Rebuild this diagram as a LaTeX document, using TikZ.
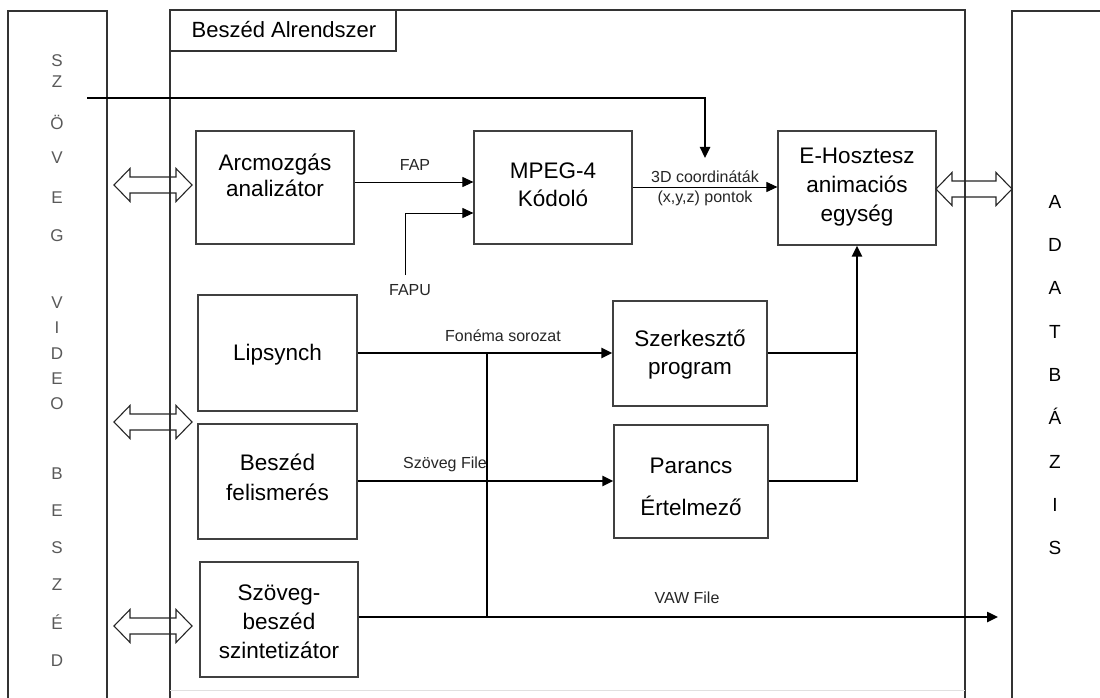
\documentclass[tikz,border=0pt]{standalone}
\usepackage{fontspec}
\setmainfont{Liberation Sans}
\usetikzlibrary{arrows.meta}

% hollow two-way block arrow: left x, right x, centre y
\newcommand{\bidirarrow}[3]{%
  \draw[hollowarrow] (#1,#3) -- ++(16,-16.5) -- ++(0,8.5) -- (#2-16,#3-8)
    -- ++(0,-8.5) -- (#2,#3) -- ++(-16,16.5) -- ++(0,-8.5) -- (#1+16,#3+8)
    -- ++(0,8.5) -- cycle;}

\begin{document}
\begin{tikzpicture}[x=1pt,y=-1pt,
  panel/.style={draw=black!80, line width=1.1pt},
  box/.style={draw=black!75, line width=1.2pt, inner sep=0pt},
  % multi-line block captions: the node is placed at the last line
  boxtxt/.style={font=\fontsize{22.5}{#1}\selectfont, align=center,
                 text height=16pt, text depth=0pt, inner sep=0pt},
  boxtxt/.default=28,
  lbl/.style={font=\fontsize{16}{19}\selectfont, text=black!85,
              text height=11.5pt, text depth=0pt, inner sep=0pt},
  leftletter/.style={font=\fontsize{17}{20}\selectfont, text=black!65,
                     text height=12pt, text depth=0pt, inner sep=0pt},
  rightletter/.style={font=\fontsize{19}{22}\selectfont, text=black,
                      text height=13.5pt, text depth=0pt, inner sep=0pt},
  thinline/.style={draw=black, line width=1pt},
  thickline/.style={draw=black, line width=2.4pt},
  arrowed/.style={-{Triangle[length=11pt,width=10pt]}},
  hollowarrow/.style={draw=black!85, line width=1.1pt, line join=miter}]

\useasboundingbox (0,0) rectangle (1100,698);
\fill[white] (0,0) rectangle (1100,698);

% --- outer panels ---
\draw[panel] (8,700) -- (8,11) -- (107,11) -- (107,700);
\draw[panel] (170,700) -- (170,10) -- (965,10) -- (965,700);
\draw[black!12, line width=0.8pt] (170,690) -- (965,690);
\draw[panel] (1012,700) -- (1012,11) -- (1102,11);

% --- subsystem title ---
\draw[panel] (170,51) -- (396,51) -- (396,10);
\node[font=\fontsize{22}{26}\selectfont, text height=15.5pt, text depth=0pt, inner sep=0pt]
  (title) at (284,30) {Beszéd Alrendszer};

% --- side captions ---
\foreach \ch/\yy [count=\i] in {S/61, Z/82, Ö/124, V/158, E/197, G/235,
    V/302, I/327, D/353, E/378, O/403,
    B/473, E/510, S/547, Z/584, É/623, D/660}
  \node[leftletter] (lt\i) at (57,\yy) {\ch};
\foreach \ch/\yy [count=\i] in {A/202, D/245, A/288, T/332, B/375, Á/418,
    Z/462, I/505, S/548}
  \node[rightletter] (rt\i) at (1055,\yy) {\ch};

% --- processing blocks ---
\node[box, minimum width=158, minimum height=113] (arc)   at (275,187.5) {};
\node[box, minimum width=158, minimum height=113] (mpeg)  at (553,187.5) {};
\node[box, minimum width=158, minimum height=114] (ehost) at (857,188) {};
\node[box, minimum width=159, minimum height=116] (lip)   at (277.5,353) {};
\node[box, minimum width=159, minimum height=115] (besz)  at (277.5,481.5) {};
\node[box, minimum width=158, minimum height=115] (szint) at (279,619.5) {};
\node[box, minimum width=154, minimum height=105] (szerk) at (690,353.5) {};
\node[box, minimum width=154, minimum height=113] (par)   at (691,481.5) {};

\node[boxtxt=25] (arcT)   at (275,188)   {Arcmozgás\\analizátor};
\node[boxtxt=28] (mpegT)  at (553,198)   {MPEG-4\\Kódoló};
\node[boxtxt=29] (ehostT) at (857,213)   {E-Hosztesz\\animaciós\\egység};
\node[boxtxt]    (lipT)   at (277.5,352) {Lipsynch};
\node[boxtxt=30] (beszT)  at (277.5,492) {Beszéd\\felismerés};
\node[boxtxt=29] (szintT) at (279,650)   {Szöveg-\\beszéd\\szintetizátor};
\node[boxtxt=28] (szerkT) at (690,366)   {Szerkesztő\\program};
\node[boxtxt=42] (parT)   at (691,507)   {Parancs\\Értelmező};

% --- connector labels ---
\node[lbl] (fap)   at (415,165) {FAP};
\node[lbl] (fapu)  at (410,290) {FAPU};
\node[lbl] (c3d)   at (705,177) {3D coordináták};
\node[lbl] (xyz)   at (705,197) {(x,y,z) pontok};
\node[lbl] (fon)   at (503,336) {Fonéma sorozat};
\node[lbl] (szf)   at (445,463) {Szöveg File};
\node[lbl] (vaw)   at (687,598) {VAW File};

% --- connector end points ---
\coordinate (szstart) at (87,98);
\coordinate (szend)   at (705,158);
\coordinate (fapuend) at (405,275);
\coordinate (jfon)    at (487,353);
\coordinate (vawend)  at (998,617);

% --- thin signal lines ---
\draw[thinline, arrowed] (arc.east |- 0,182) -- (mpeg.west |- 0,182);
\draw[thinline, arrowed] (fapuend) |- (mpeg.west |- 0,213);
\draw[thinline, arrowed] (mpeg.east |- 0,187) -- (ehost.west |- 0,187);

% --- thick data lines ---
\draw[thickline, arrowed] (szstart) -| (szend);
\draw[thickline, arrowed] (lip.east |- jfon) -- (szerk.west |- jfon);
\draw[thickline, arrowed] (besz.east |- 0,481) -- (par.west |- 0,481);
\draw[thickline] (jfon) -- (jfon |- vawend);
\draw[thickline, arrowed] (szint.east |- vawend) -- (vawend);
\draw[thickline] (szerk.east |- jfon) -- (ehost.south |- jfon);
\draw[thickline, arrowed] (par.east |- 0,481) -| (ehost.south);

% --- two-way interface arrows ---
\bidirarrow{114}{192}{185}
\bidirarrow{114}{192}{422}
\bidirarrow{114}{192}{626}
\bidirarrow{936}{1012}{189}

\end{tikzpicture}
\end{document}
